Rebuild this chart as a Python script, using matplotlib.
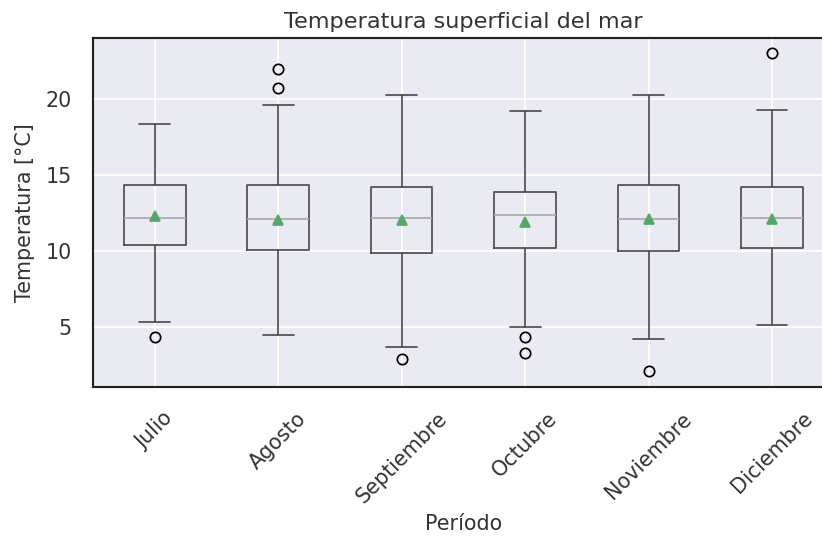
import matplotlib
matplotlib.use("Agg")
import matplotlib.pyplot as plt
import seaborn as sns

sns.set_theme(style="darkgrid")
plt.rcParams['font.family'] = ['DejaVu Sans']

months = ["Julio", "Agosto", "Septiembre", "Octubre", "Noviembre", "Diciembre"]
q1 = [10.39, 10.11, 9.85, 10.24, 10.02, 10.24]
med = [12.22, 12.09, 12.22, 12.41, 12.09, 12.22]
q3 = [14.34, 14.34, 14.23, 13.93, 14.34, 14.23]
whislo = [5.35, 4.47, 3.66, 4.98, 4.19, 5.13]
whishi = [18.40, 19.61, 20.26, 19.21, 20.26, 19.32]
means = [12.30, 12.04, 12.04, 11.93, 12.15, 12.15]
fliers = [[4.32], [22.02, 20.77], [2.87], [4.36, 3.31], [2.13], [23.05]]

stats = []
for i, m in enumerate(months):
    stats.append(dict(label=m, q1=q1[i], med=med[i], q3=q3[i],
                      whislo=whislo[i], whishi=whishi[i],
                      mean=means[i], fliers=fliers[i]))

DPI = 124
fig = plt.figure(figsize=(822 / DPI, 538 / DPI), dpi=DPI)
ax = fig.add_axes([93 / 822, 1 - 387 / 538, (833.7 - 93) / 822, (387 - 38) / 538])

box_c = "#4d4d4d"
ax.bxp(stats, showmeans=True, widths=0.5,
       boxprops=dict(color=box_c, linewidth=1.0),
       whiskerprops=dict(color=box_c, linewidth=1.0),
       capprops=dict(color=box_c, linewidth=1.0),
       medianprops=dict(color="#aaaaaa", linewidth=1.0),
       meanprops=dict(marker="^", markerfacecolor="#55a868", markeredgecolor="#55a868", markersize=6),
       flierprops=dict(marker="o", markerfacecolor="none", markeredgecolor="black", markersize=6))

ax.set_xlim(0.5, 6.5)
ax.set_ylim(1.055, 24.045)
ax.set_yticks([5, 10, 15, 20])
ax.set_xticklabels(months, rotation=45)
ax.grid(True, axis="both", color="white")
for s in ax.spines.values():
    s.set_color("#222222")
    s.set_linewidth(1.25)

txt_c = "#333333"
ax.set_title("Temperatura superficial del mar", fontsize=13, color=txt_c, pad=6)
ax.set_ylabel("Temperatura [°C]", fontsize=12, color=txt_c, labelpad=5.8)
ax.set_xlabel("Período", fontsize=12, color=txt_c)
ax.tick_params(labelsize=12, length=0, pad=12.5, labelcolor=txt_c)

fig.savefig("out.png", dpi=DPI)
